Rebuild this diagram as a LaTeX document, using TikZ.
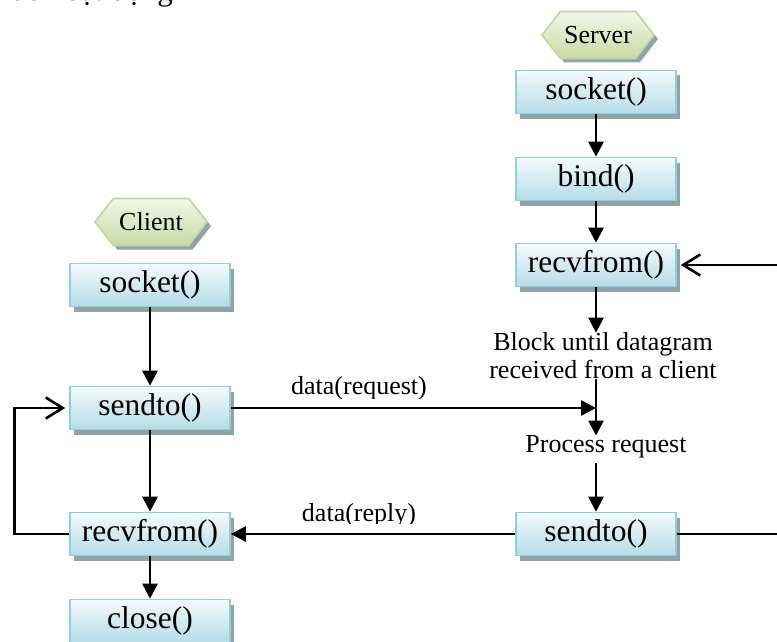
\documentclass[tikz,border=0pt]{standalone}
\usepackage{fontspec}
\setmainfont{Liberation Serif}
\usetikzlibrary{shapes.symbols,shadows,arrows.meta}

\definecolor{boxedge}{HTML}{93CDDD}
\definecolor{boxtop}{HTML}{F4FAFC}
\definecolor{boxbot}{HTML}{B5DCE7}
\definecolor{hexedge}{HTML}{C3D69B}
\definecolor{hextop}{HTML}{F2F6E8}
\definecolor{hexbot}{HTML}{C9DAA6}
\definecolor{shade}{HTML}{8FA4A9}

\tikzset{
  fnbox/.style={draw=boxedge, line width=1.6pt, top color=boxtop, bottom color=boxbot,
    minimum width=160pt, minimum height=43pt, inner sep=0pt,
    font=\fontsize{31.5}{34}\selectfont,
    drop shadow={shadow xshift=4pt, shadow yshift=-5pt, fill=shade, opacity=1}},
  rolehex/.style={shape=signal, signal to=west and east, signal pointer angle=104,
    draw=hexedge, line width=1.6pt, top color=hextop, bottom color=hexbot,
    minimum width=112pt, minimum height=47pt, inner sep=0pt,
    font=\fontsize{26}{28}\selectfont,
    drop shadow={shadow xshift=4pt, shadow yshift=-4pt, fill=shade, opacity=1}},
  note/.style={font=\fontsize{26}{28}\selectfont, align=center, inner sep=0pt},
  flow/.style={line width=2.6pt, -{Triangle[length=15pt,width=15pt]}},
  loopback/.style={line width=2.6pt, -{Straight Barb[length=17pt,width=21pt,line width=2.6pt]}, shorten >=4pt},
  plain/.style={line width=2.6pt}
}

\begin{document}
\begin{tikzpicture}[x=1pt, y=-1pt]
\useasboundingbox (0,0) rectangle (777,642);
\clip (0,0) rectangle (777,642);
\fill[white] (0,0) rectangle (777,642);

% heading line, cut by the top edge
\node[anchor=base east, inner sep=0pt, font=\fontsize{31}{34}\selectfont] (hd) at (173,1) {Sơ đồ hoạt động};

% server column
\node[rolehex] (srv) at (598,35) {Server};
\node[fnbox] (ssock) at (596,92) {socket()};
\node[fnbox] (sbind) at (596,179) {bind()};
\node[fnbox] (srecv) at (596,265) {recvfrom()};
\node[note] (blk) at (603,356) {Block until datagram\\received from a client};
\coordinate (jn) at (596,408);
\node[note] (proc) at (606,447) {Process request};
\node[fnbox] (ssend) at (596,534) {sendto()};

% client column
\node[rolehex] (cli) at (151,222) {Client};
\node[fnbox] (csock) at (150,285) {socket()};
\node[fnbox] (csend) at (150,408) {sendto()};
\node[fnbox] (crecv) at (150,534) {recvfrom()};
\node[fnbox] (cclose) at (150,621) {close()};

% server flow
\draw[flow] (ssock) -- (sbind);
\draw[flow] (sbind) -- (srecv);
\draw[flow] (srecv.south) -- (srecv.south |- blk.north);
\draw[flow] (srecv.south |- blk.south) -- (srecv.south |- proc.north);
\draw[flow] (srecv.south |- proc.south) ++(0,5) -- (ssend.north);

% client flow
\draw[flow] (csock) -- (csend);
\draw[flow] (csend) -- (crecv);
\draw[flow] (crecv) -- (cclose);
\draw[loopback] (crecv.west) -- ++(-55,0) |- (csend.west);

% datagrams between the two sides
\draw[flow] (csend.east) -- (jn);
\draw[flow] (ssend.west) -- (crecv.east);
\draw[loopback] (ssend.east) -- ++(110,0) |- (srecv.east);

\begin{scope}
  \clip (250,360) rectangle (470,398);
  \node[note] (req) at (359,388) {data(request)};
\end{scope}
\begin{scope}
  \clip (250,490) rectangle (470,523);
  \node[note] (rep) at (359,515) {data(reply)};
\end{scope}
\end{tikzpicture}
\end{document}
